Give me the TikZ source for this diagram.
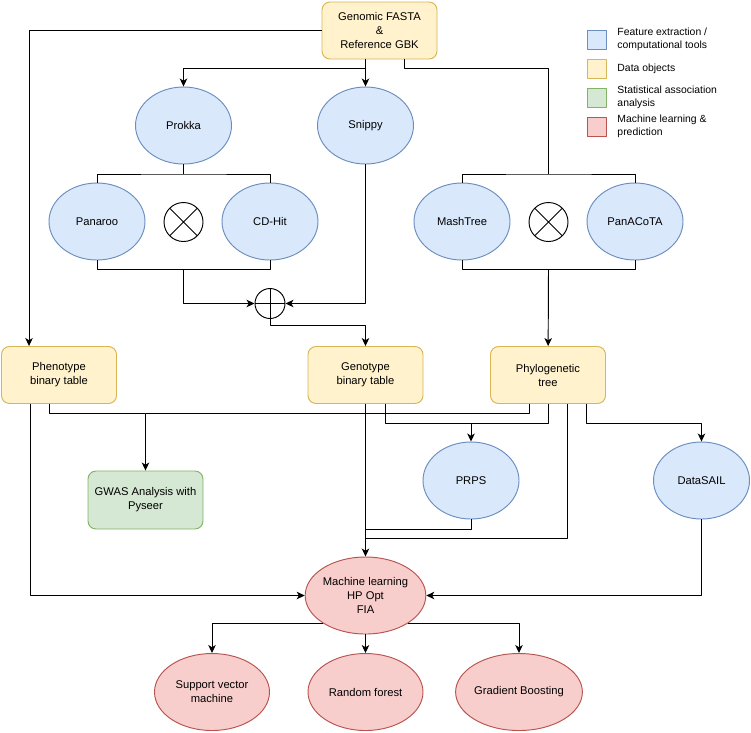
\documentclass[tikz,border=0pt]{standalone}
\usepackage{fontspec}
\setmainfont{Liberation Sans}
\usepackage{tikz}
\usetikzlibrary{arrows.meta,shapes.geometric}
\definecolor{bluefill}{HTML}{DAE8FC}
\definecolor{blueline}{HTML}{6C8EBF}
\definecolor{yelfill}{HTML}{FFF2CC}
\definecolor{yelline}{HTML}{D6B656}
\definecolor{grnfill}{HTML}{D5E8D4}
\definecolor{grnline}{HTML}{82B366}
\definecolor{redfill}{HTML}{F8CECC}
\definecolor{redline}{HTML}{B85450}
\newcommand{\mainsz}{\fontsize{11.2}{14}\selectfont}
\newcommand{\keysz}{\fontsize{10.4}{13}\selectfont}
\tikzset{
  every picture/.style={line join=round, line width=0.95pt, >={Stealth[length=8pt,width=7.5pt,inset=2.2pt]}},
  tool/.style={ellipse, draw=blueline, fill=bluefill, minimum width=96, minimum height=77, inner sep=0pt, align=center, font=\mainsz},
  data/.style={rectangle, rounded corners=8, draw=yelline, fill=yelfill, minimum width=115, minimum height=57, inner sep=0pt, align=center, font=\mainsz},
  stat/.style={rectangle, rounded corners=8, draw=grnline, fill=grnfill, minimum width=115, minimum height=58, inner sep=0pt, align=center, font=\mainsz},
  learn/.style={ellipse, draw=redline, fill=redfill, minimum width=115, minimum height=77, inner sep=0pt, align=center, font=\mainsz},
  xor/.style={circle, draw, minimum size=39, inner sep=0pt,
    path picture={\draw (path picture bounding box.north west)--(path picture bounding box.south east)
      (path picture bounding box.south west)--(path picture bounding box.north east);}},
  sum/.style={circle, draw, minimum size=30, inner sep=0pt,
    path picture={\draw (path picture bounding box.north)--(path picture bounding box.south)
      (path picture bounding box.west)--(path picture bounding box.east);}},
  key/.style={rectangle, minimum size=19, inner sep=0pt},
  keytext/.style={anchor=west, align=left, inner sep=0pt, font=\keysz},
}

\begin{document}
\begin{tikzpicture}[x=1pt,y=-1pt]
\useasboundingbox (0,0) rectangle (751,732);
% inputs and tools
\node[data] (G) at (379.5,30.5) {Genomic FASTA\\\&\\Reference GBK};
\node[tool] (Pk) at (183.5,125.5) {Prokka};
\node[tool] (Sn) at (365.5,125.5) {Snippy};
\node[tool] (Pn) at (97,221.5) {Panaroo};
\node[xor] (X1) at (183.5,222) {};
\node[tool] (CD) at (270,221.5) {CD-Hit};
\node[tool] (Mt) at (462,221.5) {MashTree};
\node[xor] (X2) at (548.5,222) {};
\node[tool] (Pa) at (635,221.5) {PanACoTA};
\node[sum] (Os) at (270,303.5) {};
% data objects
\node[data] (Ph) at (59,375) {Phenotype\\binary table};
\node[data] (Gt) at (365.5,375) {Genotype\\binary table};
\node[data] (Py) at (548,375) {Phylogenetic\\tree};
\node[stat] (GW) at (145.5,500) {GWAS Analysis with\\Pyseer};
\node[tool] (PR) at (471,480.5) {PRPS};
\node[tool] (DS) at (701.5,480.5) {DataSAIL};
% learning
\node[learn] (ML) at (365.5,595.5) {Machine learning\\HP Opt\\FIA};
\node[learn] (SV) at (212,692) {Support vector\\machine};
\node[learn] (RF) at (365.5,692) {Random forest};
\node[learn] (GB) at (519,692) {Gradient Boosting};
% legend
\foreach \n/\y/\f/\c in {1/39.5/bluefill/blueline, 2/68.5/yelfill/yelline, 3/97.5/grnfill/grnline, 4/126.5/redfill/redline}
  {\node[key, fill=\f, draw=\c] (K\n) at (596.5,\y) {};}
\node[keytext] (T1) at (617,39.5) {Feature extraction /\\computational tools};
\node[keytext] (T2) at (617,68.5) {Data objects};
\node[keytext] (T3) at (617,97.5) {Statistical association\\analysis};
\node[keytext] (T4) at (617,126.5) {Machine learning \&\\prediction};
% junctions
\coordinate (jL) at (183.5,174); \coordinate (jR) at (548.5,174);
\coordinate (kL) at (183.5,269); \coordinate (kR) at (548.5,269);
\coordinate (jG) at (145.5,413); \coordinate (jP) at (471,423);
\coordinate (jN) at (365.5,529); \coordinate (jM) at (365.5,538);
% top edges
\draw[->] (G.south -| Sn) -- ++(0,9) -| (Pk);
\draw[->] (G.south -| Sn) -- (Sn);
\draw[->] (G.west) -| ([xshift=28]Ph.north west);
\draw ([xshift=24.5]G.south) -- ++(0,9) -| (jR);
\draw (Pk) -- (jL); \draw (Pn) |- (jL) -| (CD);
\draw (Mt) |- (jR) -| (Pa);
\draw (Pn) |- (kL) -| (CD); \draw[->] (kL) |- (Os);
\draw[->] (Sn) |- (Os);
\draw[->] (Os.south) -- ++(0,6) -| (Gt);
\draw (Mt) |- (kR) -| (Pa); \draw[->] (kR) -- (Py);
% lower edges
\draw[->] ([xshift=-10]Ph.south) |- (jG) -- (GW);
\draw ([xshift=-19]Py.south) |- (jG);
\draw[->] ([xshift=19.5]Gt.south) |- (jP) -- (PR);
\draw (Py) |- (jP);
\draw[->] ([xshift=38]Py.south) -- ++(0,19) -| (DS);
\draw ([xshift=19]Py.south) |- (jM);
\draw (PR) |- (jN);
\draw[->] (Gt) -- (ML);
\draw[->] ([xshift=-29]Ph.south) |- (ML);
\draw[->] (DS) |- (ML);
\draw[->] (ML.south west) -| (SV);
\draw[->] (ML) -- (RF);
\draw[->] (ML.south east) -| (GB);
\end{tikzpicture}
\end{document}
